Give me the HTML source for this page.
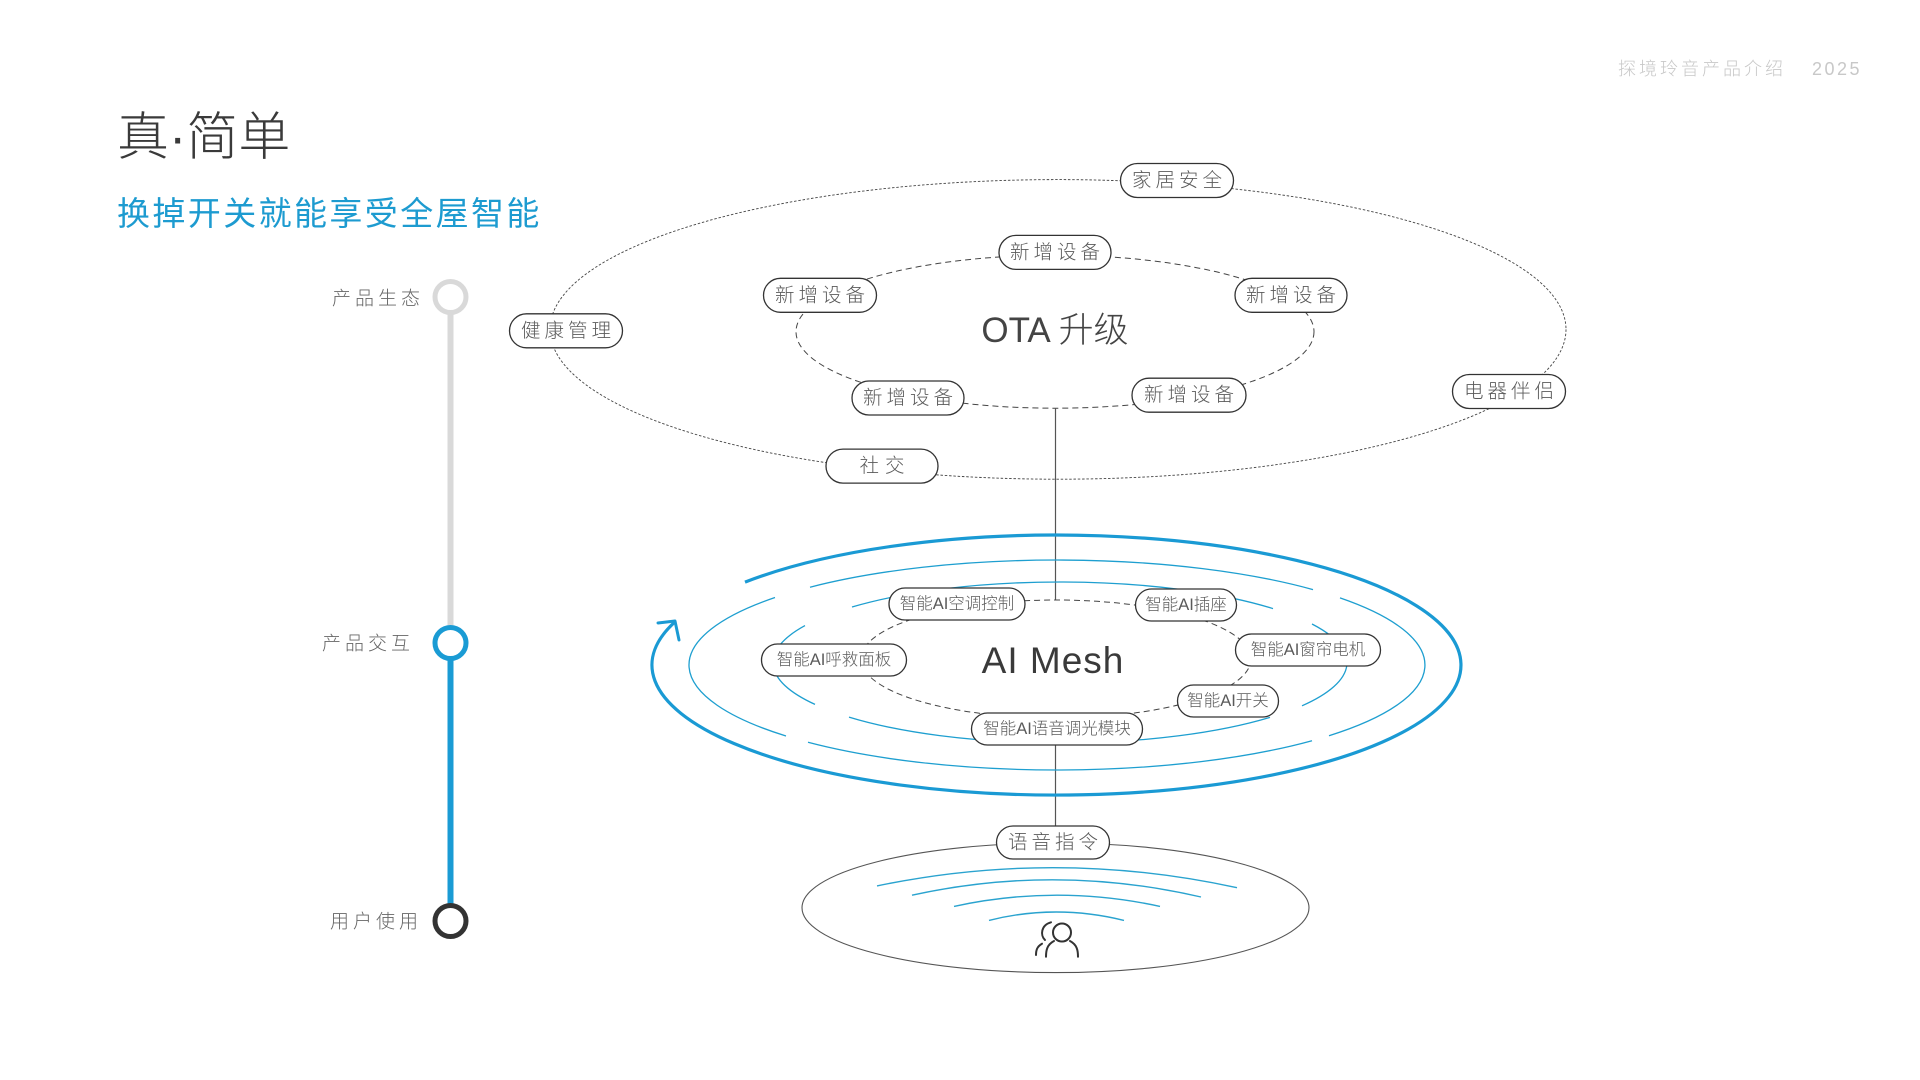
<!DOCTYPE html>
<html><head><meta charset="utf-8">
<style>
html,body{margin:0;padding:0;background:#fff;}
body{width:1920px;height:1080px;overflow:hidden;}
svg{display:block;}
text{font-family:"Liberation Sans","Noto Sans CJK SC",sans-serif;}
</style></head><body>
<svg width="1920" height="1080" viewBox="0 0 1920 1080" xmlns="http://www.w3.org/2000/svg">
  <!-- header -->
  <text x="1618" y="75" font-size="18" fill="#c8c8c8" letter-spacing="3" font-weight="300">探境玲音产品介绍</text>
  <text x="1812" y="75" font-size="18" fill="#c8c8c8" letter-spacing="2.5" font-weight="300">2025</text>

  <!-- title -->
  <text x="117" y="155" font-size="52" fill="#3a3a3a" font-weight="300">真·简单</text>
  <text x="117" y="225" font-size="33" fill="#1d9bd0" letter-spacing="2.4">换掉开关就能享受全屋智能</text>

  <!-- timeline -->
  <line x1="450.5" y1="297" x2="450.5" y2="643" stroke="#d9d9d9" stroke-width="6"/>
  <line x1="450.5" y1="643" x2="450.5" y2="921" stroke="#1a9bd4" stroke-width="6"/>
  <circle cx="450.5" cy="297" r="15.5" fill="#fff" stroke="#d9d9d9" stroke-width="5"/>
  <circle cx="450.5" cy="643" r="15.5" fill="#fff" stroke="#1a9bd4" stroke-width="5"/>
  <circle cx="450.5" cy="921" r="15.5" fill="#fff" stroke="#333" stroke-width="5"/>
  <g font-size="19" fill="#666" letter-spacing="4" dominant-baseline="central" font-weight="300">
    <text x="332" y="299">产品生态</text>
    <text x="322" y="644">产品交互</text>
    <text x="330" y="922">用户使用</text>
  </g>

  <!-- OTA ellipses -->
  <ellipse cx="1058" cy="329.4" rx="508" ry="149.8" fill="none" stroke="#444" stroke-width="0.9" stroke-dasharray="2.5 1.8"/>
  <ellipse cx="1055" cy="331.7" rx="259" ry="76.5" fill="none" stroke="#444" stroke-width="1" stroke-dasharray="6 4"/>
  <text x="1055" y="342" font-size="35" fill="#444" text-anchor="middle" font-weight="300">OTA 升级</text>

  <!-- vertical connector -->
  <line x1="1055.5" y1="408" x2="1055.5" y2="600" stroke="#555" stroke-width="1.2"/>
  <line x1="1055.5" y1="744" x2="1055.5" y2="826" stroke="#555" stroke-width="1.2"/>

  <!-- AI Mesh rings -->
  <g fill="none" stroke="#1e9fd0" stroke-width="1.3">
    <path d="M810,587.2 A368,105 0 0 1 1313,589.6"/>
    <path d="M1340,597.9 A368,105 0 0 1 1329,735.7"/>
    <path d="M1312,740.7 A368,105 0 0 1 808,742.3"/>
    <path d="M786,736 A368,105 0 0 1 775,597.5"/>
    <path d="M852,607 A287,80.5 0 0 1 1273,608.6"/>
    <path d="M1312,624 A287,80.5 0 0 1 1302,705.8"/>
    <path d="M1270,717.4 A287,80.5 0 0 1 849,717.1"/>
    <path d="M815,704.4 A287,80.5 0 0 1 805,625.6"/>
  </g>
  <path d="M745,582.1 A404.5,130 0 1 1 675,621.8" fill="none" stroke="#1a9ad4" stroke-width="3.2"/>
  <polyline points="658,623 675,621 679,640" fill="none" stroke="#1a9ad4" stroke-width="3" stroke-linecap="round" stroke-linejoin="round"/>
  <ellipse cx="1056" cy="659" rx="195" ry="59" fill="none" stroke="#444" stroke-width="1" stroke-dasharray="6 4"/>
  <text x="1053" y="673" font-size="37" fill="#3a3a3a" text-anchor="middle" letter-spacing="1" font-weight="300">AI Mesh</text>

  <!-- bottom ellipse -->
  <ellipse cx="1055.5" cy="907.8" rx="253.5" ry="64.8" fill="none" stroke="#555" stroke-width="1.1"/>
  <g fill="none" stroke="#2aa3cf" stroke-width="1.4">
    <path d="M877,885.9 Q1057,848.5 1237,887.7"/>
    <path d="M912,895.2 Q1056,863.5 1201,897"/>
    <path d="M954,906.4 Q1057,884 1160,906.4"/>
    <path d="M989,920.4 Q1056,903.6 1124,920.4"/>
  </g>
  <g fill="none" stroke="#333" stroke-width="2" stroke-linecap="round">
    <circle cx="1062" cy="932.5" r="9"/>
    <path d="M1054,941 C1047,944.7 1046,950.3 1046,956.8"/>
    <path d="M1070,941 C1077,944.7 1078,950.3 1078,956.8"/>
    <path d="M1045,940 C1040,935.3 1041,925 1051,922.3"/>
    <path d="M1042,943.7 C1037,946.5 1036,950.3 1036,955"/>
  </g>

  <!-- pills -->
  <g fill="#fff" stroke="#333" stroke-width="1.3">
    <rect x="1120.5" y="163.5" width="113" height="34" rx="17"/>
    <rect x="509.5" y="313.8" width="113" height="34" rx="17"/>
    <rect x="1452.5" y="374.5" width="113" height="34" rx="17"/>
    <rect x="826" y="449.1" width="112" height="34" rx="17"/>
    <rect x="999" y="235.4" width="112" height="34" rx="17"/>
    <rect x="763.5" y="278.3" width="113" height="34" rx="17"/>
    <rect x="1235" y="278.3" width="112" height="34" rx="17"/>
    <rect x="852" y="381" width="112" height="34" rx="17"/>
    <rect x="1132" y="378.2" width="114" height="34" rx="17"/>
    <rect x="889" y="588" width="136" height="32" rx="16"/>
    <rect x="1135.5" y="589" width="101" height="32" rx="16"/>
    <rect x="1235.5" y="634" width="145" height="32" rx="16"/>
    <rect x="761.5" y="644" width="145" height="32" rx="16"/>
    <rect x="1177.5" y="685" width="101" height="32" rx="16"/>
    <rect x="971.5" y="713" width="171" height="32" rx="16"/>
    <rect x="996.5" y="826" width="113" height="33" rx="16.5"/>
  </g>
  <g font-size="19.5" fill="#5a5a5a" text-anchor="middle" dominant-baseline="central" letter-spacing="4" font-weight="300">
    <text x="1179" y="180.5">家居安全</text>
    <text x="568" y="330.8">健康管理</text>
    <text x="1511" y="391.5">电器伴侣</text>
    <text x="885" y="466.1" letter-spacing="6">社交</text>
    <text x="1057" y="252.4">新增设备</text>
    <text x="822" y="295.3">新增设备</text>
    <text x="1293" y="295.3">新增设备</text>
    <text x="910" y="398">新增设备</text>
    <text x="1191" y="395.2">新增设备</text>
    <text x="1055" y="842.5">语音指令</text>
  </g>
  <g font-size="16.5" fill="#5a5a5a" text-anchor="middle" dominant-baseline="central" font-weight="300">
    <text x="957" y="604">智能AI空调控制</text>
    <text x="1186" y="605">智能AI插座</text>
    <text x="1308" y="650">智能AI窗帘电机</text>
    <text x="834" y="660">智能AI呼救面板</text>
    <text x="1228" y="701">智能AI开关</text>
    <text x="1057" y="729">智能AI语音调光模块</text>
  </g>
</svg>
</body></html>
